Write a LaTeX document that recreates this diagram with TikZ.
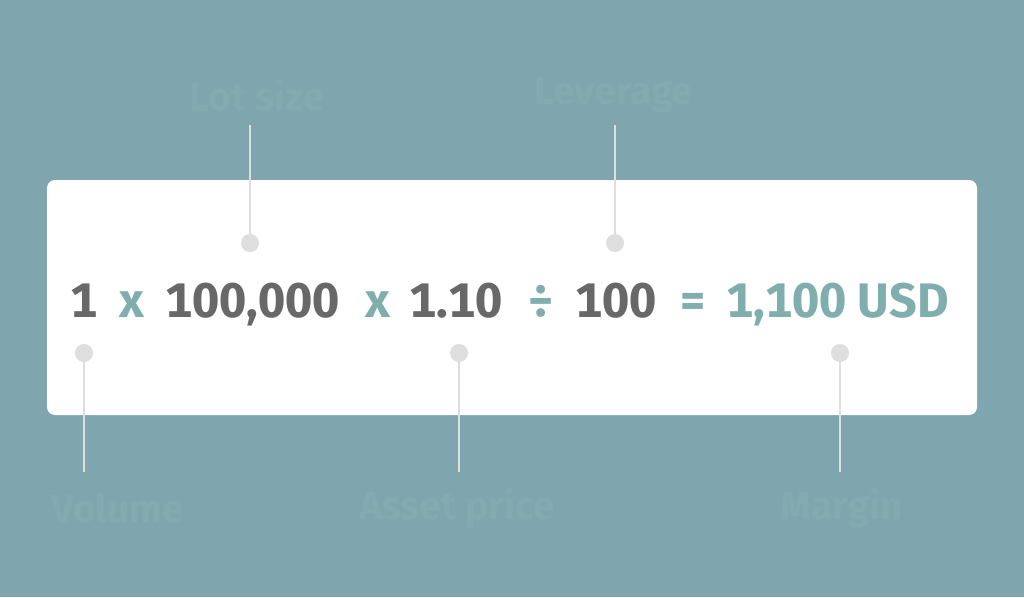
\documentclass[tikz,border=0pt]{standalone}
\usepackage{fontspec}
\setmainfont[Numbers={Monospaced,Lining}]{Fira Sans}
\definecolor{bg}{RGB}{127,166,174}
\definecolor{numgray}{RGB}{104,104,104}
\definecolor{opteal}{RGB}{128,174,172}
\definecolor{linegray}{RGB}{222,222,222}
\definecolor{faint}{RGB}{131,169,177}
\begin{document}
\begin{tikzpicture}[x=1pt,y=-1pt,
  num/.style={anchor=base west,inner sep=0pt,text=numgray,font=\fontsize{48.5}{50}\selectfont\bfseries},
  op/.style={anchor=base west,inner sep=0pt,text=opteal,font=\fontsize{48.5}{50}\selectfont\bfseries},
  lbl/.style={inner sep=0pt,text=faint,font=\fontsize{39}{42}\selectfont\bfseries},
  dot/.style={circle,fill=linegray,minimum size=18pt,inner sep=0pt},
  conn/.style={draw=linegray,line width=2pt}]
\useasboundingbox (0,0) rectangle (1024,597);
\fill[bg] (0,0) rectangle (1024,597);
\fill[white,rounded corners=8pt] (47,180) rectangle (977,415);
% equation
\node[num] (n1) at (70,317) {1};
\node[op] (o1) at (119,317) {x};
\node[num] (n2) at (165,317) {100,000};
\node[op] (o2) at (365,317) {x};
\node[num] (n3) at (409,317) {1.10};
\node[op] (o3) at (527,317) {÷};
\node[num] (n4) at (575,317) {100};
\node[op] (o4) at (679,317) {=};
\node[op] (n5) at (726,317) {1,100 USD};
% labels
\node[lbl] (lot) at (257,95) {Lot size};
\node[lbl] (lev) at (614,95) {Leverage};
\node[lbl] (vol) at (118,508) {Volume};
\node[lbl] (ast) at (457,508) {Asset price};
\node[lbl] (mar) at (842,508) {Margin};
% dots
\node[dot] (d1) at (250,243) {};
\node[dot] (d2) at (615,243) {};
\node[dot] (d3) at (84,353) {};
\node[dot] (d4) at (459,353) {};
\node[dot] (d5) at (840,353) {};
\coordinate (t1) at (250,125);
\coordinate (t2) at (615,125);
\coordinate (b3) at (84,472);
\coordinate (b4) at (459,472);
\coordinate (b5) at (840,472);
\draw[conn] (t1) -- (d1.center);
\draw[conn] (t2) -- (d2.center);
\draw[conn] (d3.center) -- (b3);
\draw[conn] (d4.center) -- (b4);
\draw[conn] (d5.center) -- (b5);
\end{tikzpicture}
\end{document}
